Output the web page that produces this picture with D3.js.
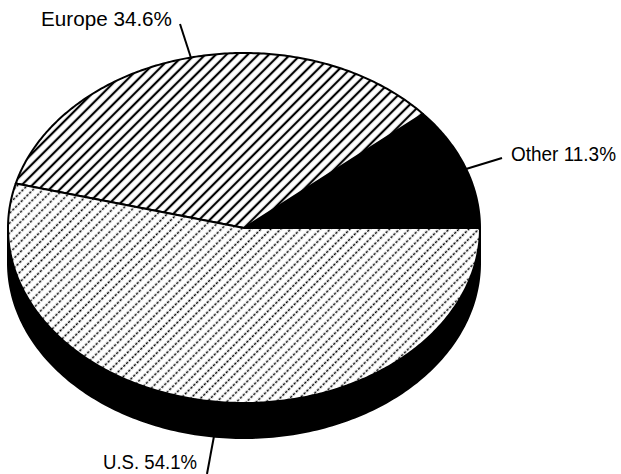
<!DOCTYPE html>
<html>
<head>
<meta charset="utf-8">
<script src="https://cdn.jsdelivr.net/npm/d3@7"></script>
<style>
  body { margin: 0; background: #fff; }
  text { font-family: "Liberation Sans", Arial, sans-serif; }
</style>
</head>
<body>
<div id="main"></div>
<script>
'use strict';

// shares of the pie, counter-clockwise from 3 o'clock
var regions = ['Other', 'Europe', 'U.S.'];
var shares = [11.3, 34.6, 54.1];
var labels = ['Other 11.3%', 'Europe 34.6%', 'U.S. 54.1%'];

var width = 621;
var height = 474;
var cx = 244, cy = 228;
var rx = 236, ry = 175;
var depth = 35;

var svg = d3.select('#main').append('svg')
  .attr('width', width)
  .attr('height', height)
  .style('display', 'block');

var defs = svg.append('defs');

// solid diagonal hatch for Europe
defs.append('pattern')
  .attr('id', 'hatchSolid')
  .attr('patternUnits', 'userSpaceOnUse')
  .attr('width', 10).attr('height', 7.5)
  .attr('patternTransform', 'rotate(-45)')
  .call(function (p) {
    p.append('rect').attr('width', 10).attr('height', 7.5).attr('fill', '#fff');
    p.append('line')
      .attr('x1', 0).attr('y1', 3.75).attr('x2', 10).attr('y2', 3.75)
      .attr('stroke', '#000').attr('stroke-width', 2.2);
  });

// dashed finer hatch for U.S.
defs.append('pattern')
  .attr('id', 'hatchDash')
  .attr('patternUnits', 'userSpaceOnUse')
  .attr('width', 8).attr('height', 7)
  .attr('patternTransform', 'rotate(-45)')
  .call(function (p) {
    p.append('rect').attr('width', 8).attr('height', 7).attr('fill', '#fff');
    p.append('line')
      .attr('x1', 0).attr('y1', 3.5).attr('x2', 8).attr('y2', 3.5)
      .attr('stroke', '#000').attr('stroke-width', 1.3)
      .attr('stroke-dasharray', '2.5,1.5');
  });

var fills = ['#000', 'url(#hatchSolid)', 'url(#hatchDash)'];

var pie = d3.pie().sort(null).startAngle(0).endAngle(2 * Math.PI);
var arcs = pie(shares);

function px(t) { return cx + rx * Math.cos(t); }
function py(t, dy) { return cy - ry * Math.sin(t) + (dy || 0); }

// side of the disc (front half)
var sidePts = d3.range(0, 181).map(function (i) { return Math.PI + i * Math.PI / 180; });
var side = 'M' + px(Math.PI) + ',' + py(Math.PI);
sidePts.forEach(function (t) { side += 'L' + px(t) + ',' + py(t); });
sidePts.slice().reverse().forEach(function (t) { side += 'L' + px(t) + ',' + py(t, depth); });
side += 'Z';
svg.append('path')
  .attr('d', side)
  .attr('fill', '#000')
  .attr('stroke', '#000')
  .attr('stroke-width', 2);

// top face slices
function slicePath(a) {
  var n = Math.max(2, Math.ceil((a.endAngle - a.startAngle) * 90));
  var d = 'M' + cx + ',' + cy;
  for (var i = 0; i <= n; i++) {
    var t = a.startAngle + (a.endAngle - a.startAngle) * i / n;
    d += 'L' + px(t) + ',' + py(t);
  }
  return d + 'Z';
}

svg.append('g').selectAll('path')
  .data(arcs)
  .enter().append('path')
  .attr('d', slicePath)
  .attr('fill', function (d, i) { return fills[i]; })
  .attr('stroke', '#000')
  .attr('stroke-width', 2)
  .attr('stroke-linejoin', 'round');

// labels with leader lines
var labelPos = [
  { x: 511, y: 161, len: 105, line: [466, 169, 502, 158] },
  { x: 41, y: 26, len: 131, line: [191, 58, 180, 24] },
  { x: 103, y: 469, len: 94, line: [214, 436, 207, 474] }
];

var lab = svg.append('g');
labels.forEach(function (txt, i) {
  var p = labelPos[i];
  lab.append('line')
    .attr('x1', p.line[0]).attr('y1', p.line[1])
    .attr('x2', p.line[2]).attr('y2', p.line[3])
    .attr('stroke', '#000').attr('stroke-width', 2);
  lab.append('text')
    .attr('x', p.x).attr('y', p.y)
    .attr('font-size', '20px')
    .attr('textLength', p.len)
    .attr('lengthAdjust', 'spacingAndGlyphs')
    .attr('fill', '#000')
    .text(txt);
});
</script>
</body>
</html>
